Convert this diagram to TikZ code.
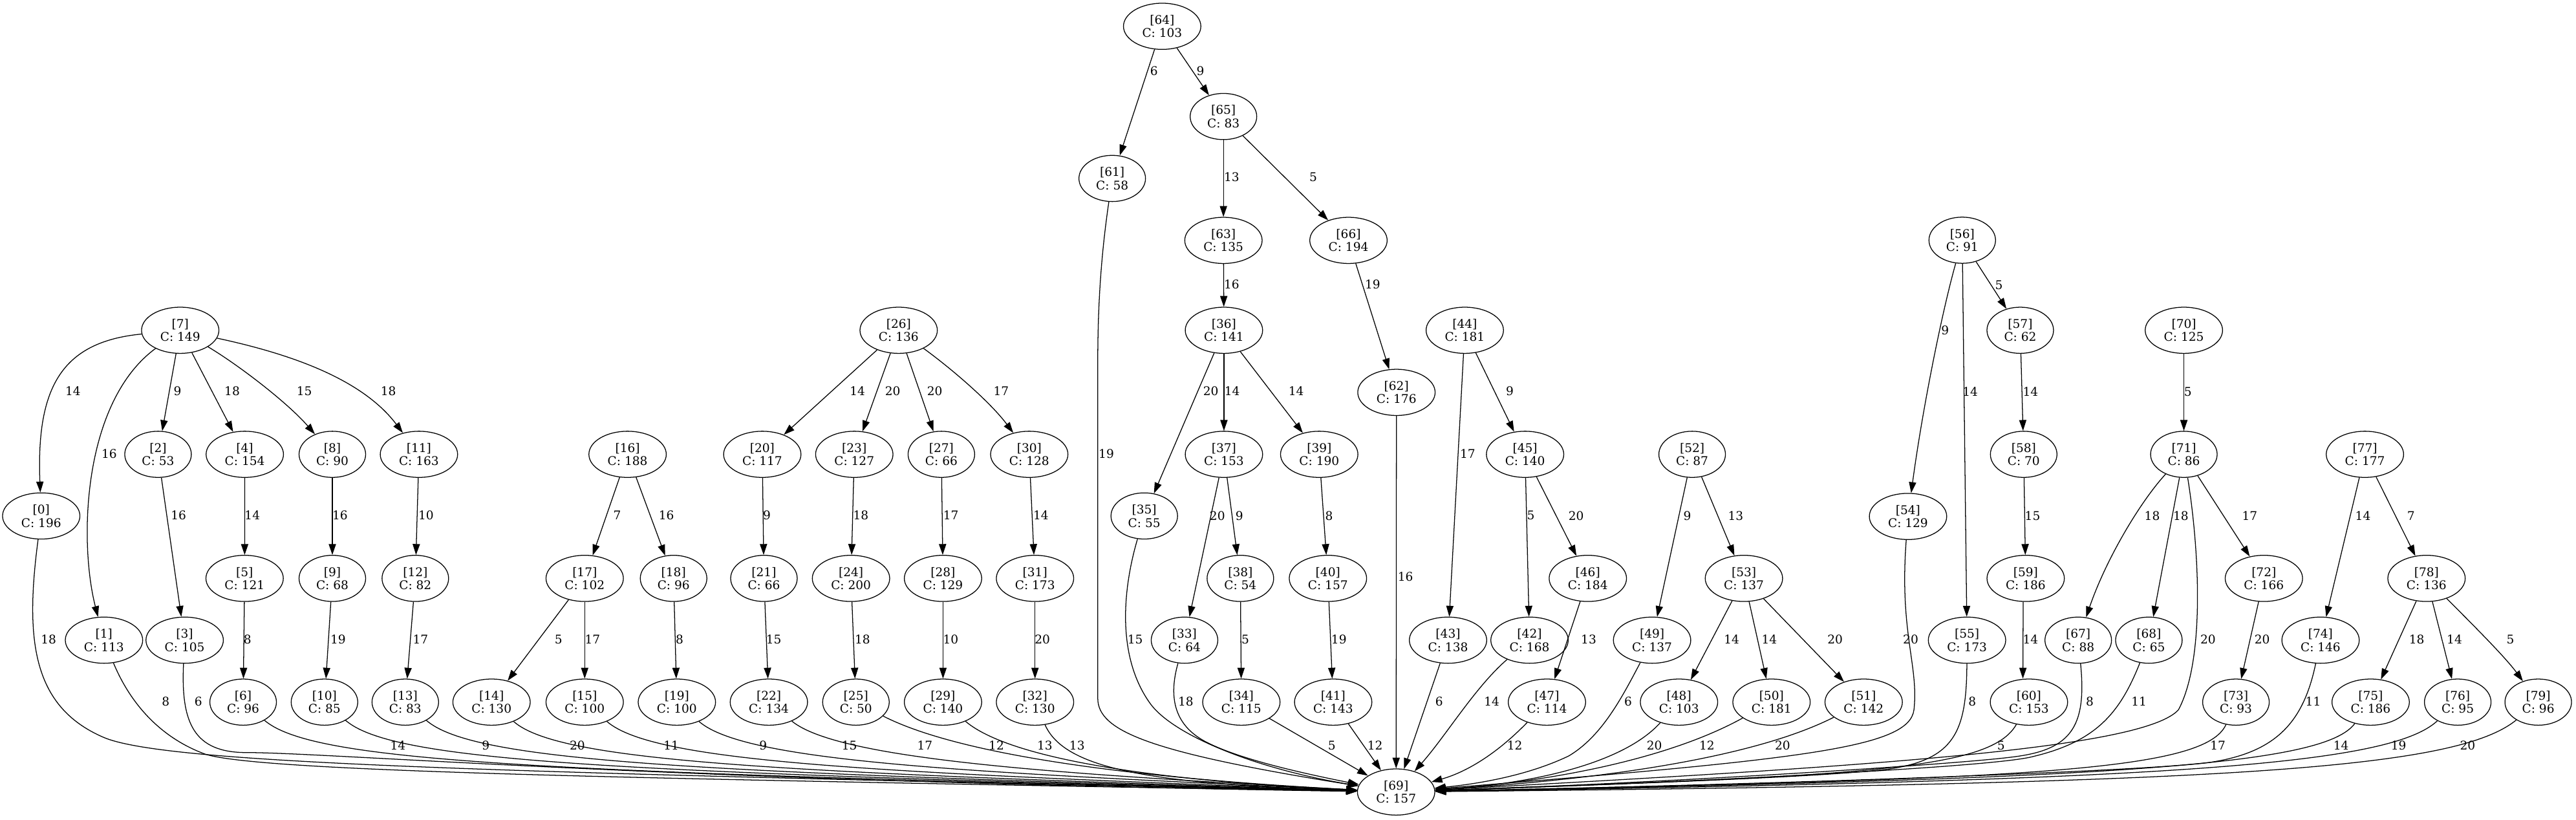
\documentclass[tikz,border=0pt]{standalone}
\usepackage{fontspec}
\setmainfont{DejaVu Serif}
\usetikzlibrary{shapes.geometric,arrows.meta}
\newcommand\gnode[4]{\node[nd] (n#1) at (#2,#3) {[#1]\\C: #4};}
\begin{document}
\begin{tikzpicture}[x=1pt,y=-1pt,
  nd/.style={ellipse,draw,line width=0.5pt,inner xsep=4.5pt,inner ysep=0pt,minimum height=28.1pt,align=center,font=\fontsize{7.3}{8.1}\selectfont},
  lbl/.style={inner sep=0pt,font=\fontsize{7.3}{8.1}\selectfont},
  e/.style={line width=0.5pt,-{Triangle[length=6.6pt,width=4.4pt]}}]
\useasboundingbox (0,0) rectangle (1568,499);
% nodes
\gnode{0}{25.1}{314}{196}
\gnode{1}{63.3}{389.6}{113}
\gnode{2}{96.2}{276.5}{53}
\gnode{3}{112.4}{389.6}{105}
\gnode{4}{149}{276.5}{154}
\gnode{5}{148.9}{352}{121}
\gnode{6}{148}{427.3}{96}
\gnode{7}{109.7}{201}{149}
\gnode{8}{202.3}{276.5}{90}
\gnode{9}{202.3}{352}{68}
\gnode{10}{197.5}{427.3}{85}
\gnode{11}{255}{276.5}{163}
\gnode{12}{252.8}{352}{82}
\gnode{13}{246.7}{427.3}{83}
\gnode{14}{299.2}{427.3}{130}
\gnode{15}{355.9}{427.3}{100}
\gnode{16}{382}{276.5}{188}
\gnode{17}{355.9}{352}{102}
\gnode{18}{410}{352}{96}
\gnode{19}{412}{427.3}{100}
\gnode{20}{464}{276.5}{117}
\gnode{21}{465}{352}{66}
\gnode{22}{468}{427.3}{134}
\gnode{23}{520}{276.5}{127}
\gnode{24}{518}{352}{200}
\gnode{25}{521}{427.3}{50}
\gnode{26}{547}{201}{136}
\gnode{27}{573}{276.5}{66}
\gnode{28}{574}{352}{129}
\gnode{29}{574}{427.3}{140}
\gnode{30}{626.5}{276.5}{128}
\gnode{31}{630}{352}{173}
\gnode{32}{630}{427.3}{130}
\gnode{33}{721}{389.6}{64}
\gnode{34}{755.6}{427.3}{115}
\gnode{35}{696.5}{314}{55}
\gnode{36}{745}{201}{141}
\gnode{37}{745}{276.5}{153}
\gnode{38}{755}{352}{54}
\gnode{39}{803}{276.5}{190}
\gnode{40}{808.3}{352}{157}
\gnode{41}{811.5}{427.3}{143}
\gnode{42}{931}{389.6}{168}
\gnode{43}{881.4}{389.6}{138}
\gnode{44}{891.6}{201}{181}
\gnode{45}{928.3}{276.5}{140}
\gnode{46}{966.5}{352}{184}
\gnode{47}{941.6}{427.3}{114}
\gnode{48}{1022}{427.3}{103}
\gnode{49}{1005.6}{389.6}{137}
\gnode{50}{1078.3}{427.3}{181}
\gnode{51}{1134.4}{427.3}{142}
\gnode{52}{1030}{276.5}{87}
\gnode{53}{1061.5}{352}{137}
\gnode{54}{1161.4}{314.3}{129}
\gnode{55}{1197.3}{389.6}{173}
\gnode{56}{1194.4}{146.2}{91}
\gnode{57}{1229.7}{201}{62}
\gnode{58}{1231.8}{276.5}{70}
\gnode{59}{1233}{352}{186}
\gnode{60}{1235}{427.3}{153}
\gnode{61}{677}{108.6}{58}
\gnode{62}{850}{238.8}{176}
\gnode{63}{744.7}{146.3}{135}
\gnode{64}{707.4}{16}{103}
\gnode{65}{744.7}{70.9}{83}
\gnode{66}{820.8}{146.3}{194}
\gnode{67}{1265}{389.6}{88}
\gnode{68}{1308}{389.6}{65}
\gnode{69}{849.8}{482}{157}
\gnode{70}{1329.3}{201}{125}
\gnode{71}{1329.3}{276.5}{86}
\gnode{72}{1378}{352}{166}
\gnode{73}{1361}{427.3}{93}
\gnode{74}{1412.5}{389.6}{146}
\gnode{75}{1443}{427.3}{186}
\gnode{76}{1496}{427.3}{95}
\gnode{77}{1439.5}{276.5}{177}
\gnode{78}{1477}{352}{136}
\gnode{79}{1545}{427.3}{96}
% tree 7
\draw[e] (n7) .. controls (38,208) and (22,235) .. (n0) node[lbl] at (44.4,238) {14};
\draw[e] (n7) .. controls (50,245) and (48,330) .. (n1) node[lbl] at (66.5,276) {16};
\draw[e] (n7) -- (n2) node[lbl] at (108,238) {9};
\draw[e] (n7) -- (n4) node[lbl] at (141.3,238) {18};
\draw[e] (n7) .. controls (145,222) and (175,245) .. (n8) node[lbl] at (185.2,238) {15};
\draw[e] (n7) .. controls (175,215) and (220,230) .. (n11) node[lbl] at (236.4,238) {18};
\draw[e] (n2) -- (n3) node[lbl] at (108.7,313.5) {16};
\draw[e] (n4) -- (n5) node[lbl] at (153.6,313.5) {14};
\draw[e] (n8) -- (n9) node[lbl] at (207,313.5) {16};
\draw[e] (n11) -- (n12) node[lbl] at (259.3,313.5) {10};
\draw[e] (n5) -- (n6) node[lbl] at (150.6,389) {8};
\draw[e] (n9) -- (n10) node[lbl] at (205.8,389) {19};
\draw[e] (n12) -- (n13) node[lbl] at (256,389) {17};
% tree 16
\draw[e] (n16) -- (n17) node[lbl] at (375.7,313.5) {7};
\draw[e] (n16) -- (n18) node[lbl] at (405.6,313.5) {16};
\draw[e] (n17) -- (n14) node[lbl] at (340,389) {5};
\draw[e] (n17) -- (n15) node[lbl] at (360.7,389) {17};
\draw[e] (n18) -- (n19) node[lbl] at (413.7,389) {8};
% tree 26
\draw[e] (n26) -- (n20) node[lbl] at (521.9,238) {14};
\draw[e] (n26) -- (n23) node[lbl] at (543.4,238) {20};
\draw[e] (n26) -- (n27) node[lbl] at (569,238) {20};
\draw[e] (n26) .. controls (580,225) and (603,245) .. (n30) node[lbl] at (609.4,238) {17};
\draw[e] (n20) -- (n21) node[lbl] at (466.8,313.5) {9};
\draw[e] (n23) -- (n24) node[lbl] at (524,313.5) {18};
\draw[e] (n27) -- (n28) node[lbl] at (578.8,313.5) {17};
\draw[e] (n30) -- (n31) node[lbl] at (633.6,313.5) {14};
\draw[e] (n21) -- (n22) node[lbl] at (471,389) {15};
\draw[e] (n24) -- (n25) node[lbl] at (525,389) {18};
\draw[e] (n28) -- (n29) node[lbl] at (578.7,389) {10};
\draw[e] (n31) -- (n32) node[lbl] at (634.5,389) {20};
% tree 64
\draw[e] (n64) -- (n61) node[lbl] at (702.4,43) {6};
\draw[e] (n64) -- (n65) node[lbl] at (730.7,43) {9};
\draw[e] (n65) -- (n63) node[lbl] at (749.7,107.8) {13};
\draw[e] (n65) -- (n66) node[lbl] at (799.3,107.8) {5};
\draw[e] (n63) -- (n36) node[lbl] at (749.7,173.2) {16};
\draw[e] (n66) -- (n62) node[lbl] at (835.5,173.2) {19};
\draw[e] (n36) -- (n35) node[lbl] at (737,238) {20};
\draw[e] (n36) -- (n37) node[lbl] at (750,238) {14};
\draw[e] (n36) -- (n39) node[lbl] at (789,238) {14};
\draw[e] (n37) -- (n33) node[lbl] at (741,313.8) {20};
\draw[e] (n37) -- (n38) node[lbl] at (754.4,313.8) {9};
\draw[e] (n39) -- (n40) node[lbl] at (809,313.8) {8};
\draw[e] (n38) -- (n34) node[lbl] at (758,389) {5};
\draw[e] (n40) -- (n41) node[lbl] at (815,389) {19};
% tree 44
\draw[e] (n44) -- (n43) node[lbl] at (893.4,276) {17};
\draw[e] (n44) -- (n45) node[lbl] at (919,238) {9};
\draw[e] (n45) -- (n42) node[lbl] at (931.8,313.8) {5};
\draw[e] (n45) -- (n46) node[lbl] at (959.4,313.8) {20};
\draw[e] (n46) -- (n47) node[lbl] at (967,389) {13};
% tree 52
\draw[e] (n52) -- (n49) node[lbl] at (1027,313.8) {9};
\draw[e] (n52) -- (n53) node[lbl] at (1056.5,313.8) {13};
\draw[e] (n53) -- (n48) node[lbl] at (1054,389) {14};
\draw[e] (n53) -- (n50) node[lbl] at (1077,389) {14};
\draw[e] (n53) -- (n51) node[lbl] at (1117,389) {20};
% tree 56
\draw[e] (n56) .. controls (1182,190) and (1170,250) .. (n54) node[lbl] at (1184,201) {9};
\draw[e] (n56) -- (n55) node[lbl] at (1199.3,238.3) {14};
\draw[e] (n56) -- (n57) node[lbl] at (1216.7,173.5) {5};
\draw[e] (n57) -- (n58) node[lbl] at (1236,238.3) {14};
\draw[e] (n58) -- (n59) node[lbl] at (1237.2,313.9) {15};
\draw[e] ([xshift=-1.5pt]n59.south) -- ([xshift=-3.7pt]n60.north) node[lbl] at (1236,389) {14};
% tree 70
\draw[e] (n70) -- (n71) node[lbl] at (1331.7,238.3) {5};
\draw[e] (n71) .. controls (1303,305) and (1282,340) .. (n67) node[lbl] at (1310,313.9) {18};
\draw[e] (n71) -- (n68) node[lbl] at (1327.5,313.9) {18};
\draw[e] (n71) -- (n72) node[lbl] at (1369.4,313.9) {17};
\draw[e] (n72) -- (n73) node[lbl] at (1377,389) {20};
% tree 77
\draw[e] (n77) -- (n74) node[lbl] at (1438.3,313.9) {14};
\draw[e] (n77) -- (n78) node[lbl] at (1467.5,313.9) {7};
\draw[e] (n78) -- (n75) node[lbl] at (1471,389) {18};
\draw[e] (n78) -- (n76) node[lbl] at (1494,389) {14};
\draw[e] (n78) .. controls (1505,380) and (1525,400) .. (n79) node[lbl] at (1528,389) {5};
% edges into 69 from the left
\draw[e] (n0) .. controls (15,390) and (20,430) .. (62.7,448.6) .. controls (100,465) and (300,470) .. (n69) node[lbl] at (29.6,389) {18};
\draw[e] (n1) .. controls (78,425) and (95,448) .. (125,459) .. controls (160,470) and (400,474) .. (n69) node[lbl] at (100.9,427) {8};
\draw[e] (n3) .. controls (110,440) and (118,458) .. (150,458) .. controls (200,458) and (400,475) .. (n69) node[lbl] at (120.7,427) {6};
\draw[e] (n6) .. controls (191,464) and (325,470) .. (n69) node[lbl] at (242.2,453.8) {14};
\draw[e] (n10) .. controls (240,464) and (375,470) .. (n69) node[lbl] at (295.7,453.8) {9};
\draw[e] (n13) .. controls (289,464) and (425,470) .. (n69) node[lbl] at (351.4,453.8) {20};
\draw[e] (n14) .. controls (341,464) and (475,470) .. (n69) node[lbl] at (408.6,453.8) {11};
\draw[e] (n15) .. controls (398,464) and (530,470) .. (n69) node[lbl] at (464.5,453.8) {9};
\draw[e] (n19) .. controls (454,464) and (590,470) .. (n69) node[lbl] at (517,453.8) {15};
\draw[e] (n22) .. controls (510,462) and (640,471) .. (n69) node[lbl] at (563,453.8) {17};
\draw[e] (n25) .. controls (575,455) and (660,472) .. (n69) node[lbl] at (606.5,453.8) {12};
\draw[e] (n29) .. controls (610,458) and (680,474) .. (n69) node[lbl] at (636,453.8) {13};
\draw[e] (n32) .. controls (648,468) and (700,477) .. (n69) node[lbl] at (655.6,453.8) {13};
% edges into 69 from above
\draw[e] (n61) .. controls (671,150) and (668.2,180) .. (668.2,220) -- (668.2,425) .. controls (668.2,445) and (700,458) .. (n69) node[lbl] at (673.4,276) {19};
\draw[e] (n35) .. controls (683,360) and (680,400) .. (700,428) .. controls (714,447.6) and (765,468) .. (n69) node[lbl] at (691,389) {15};
\draw[e] (n33) .. controls (711,425) and (715,442) .. (735,452) .. controls (755,462) and (790,470) .. (n69) node[lbl] at (721.8,427) {18};
\draw[e] (n34) -- (n69) node[lbl] at (810.7,453.8) {5};
\draw[e] (n41) -- (n69) node[lbl] at (837,453.8) {12};
\draw[e] (n62) -- (n69) node[lbl] at (855.5,351) {16};
% edges into 69 from the right
\draw[e] (n43) -- (n69) node[lbl] at (876,427) {6};
\draw[e] (n42) .. controls (898,418) and (880,448) .. (n69) node[lbl] at (908,427) {14};
\draw[e] (n47) .. controls (905,465) and (885,472) .. (n69) node[lbl] at (922,453.8) {12};
\draw[e] (n49) .. controls (987,425) and (975,448) .. (955,460) .. controls (930,472) and (900,477) .. (n69) node[lbl] at (991,427) {6};
\draw[e] (n48) .. controls (985,468) and (920,478) .. (n69) node[lbl] at (1007,453.8) {20};
\draw[e] (n50) .. controls (1010,465) and (930,477) .. (n69) node[lbl] at (1039,453.8) {12};
\draw[e] (n51) .. controls (1060,465) and (950,476) .. (n69) node[lbl] at (1085,453.8) {20};
\draw[e] (n54) .. controls (1156,385) and (1168,405) .. (1165,432) .. controls (1162,455) and (1100,462) .. (n69) node[lbl] at (1163,389) {20};
\draw[e] (n55) .. controls (1197,445) and (1190,462) .. (1150,468) .. controls (1100,474) and (950,478) .. (n69) node[lbl] at (1200.5,427) {8};
\draw[e] (n60) .. controls (1212,468) and (1140,472) .. (n69) node[lbl] at (1218,453.8) {5};
\draw[e] (n67) .. controls (1270,440) and (1262,455) .. (1230,460) .. controls (1200,465) and (1000,477) .. (n69) node[lbl] at (1272,427) {8};
\draw[e] (n68) .. controls (1290,435) and (1275,452) .. (1235,461) .. controls (1200,468) and (1000,477) .. (n69) node[lbl] at (1302,427) {11};
\draw[e] (n71) .. controls (1338,330) and (1343,400) .. (1326,432) .. controls (1305,455) and (1150,466) .. (n69) node[lbl] at (1344,389) {20};
\draw[e] (n73) .. controls (1342,470) and (1230,474) .. (n69) node[lbl] at (1350,453.8) {17};
\draw[e] (n74) .. controls (1402,440) and (1385,458) .. (1345,464) .. controls (1300,470) and (1050,478) .. (n69) node[lbl] at (1408,427) {11};
\draw[e] (n75) .. controls (1415,465) and (1300,474) .. (n69) node[lbl] at (1425,453.8) {14};
\draw[e] (n76) .. controls (1455,465) and (1330,475) .. (n69) node[lbl] at (1460,453.8) {19};
\draw[e] (n79) .. controls (1495,468) and (1360,477) .. (n69) node[lbl] at (1502,453.8) {20};
\end{tikzpicture}
\end{document}
